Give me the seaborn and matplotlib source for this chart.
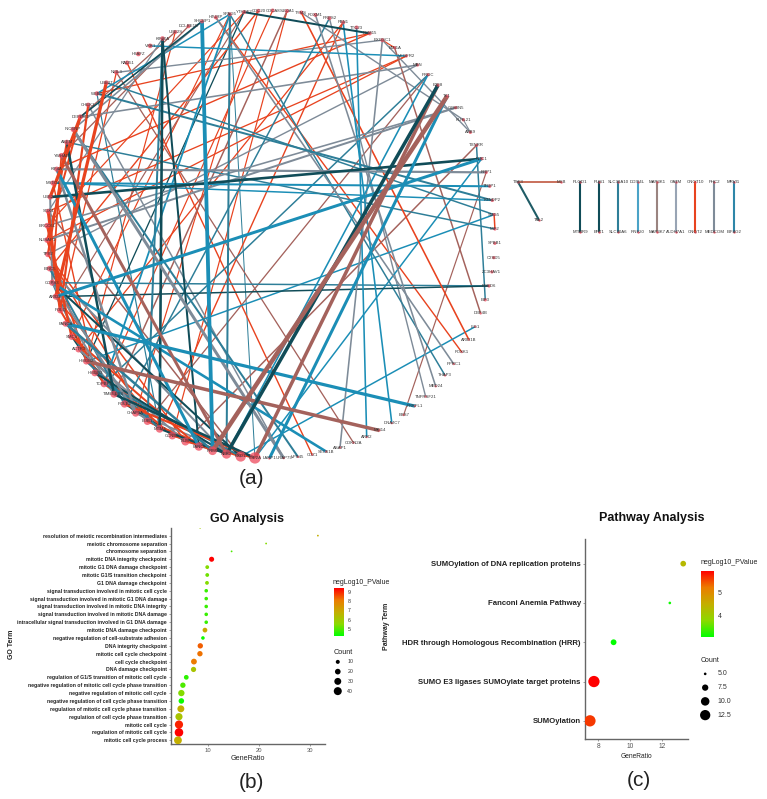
import numpy as np
import pandas as pd
import matplotlib
matplotlib.use('Agg')
import matplotlib.pyplot as plt
from matplotlib.cm import ScalarMappable
from matplotlib.colors import LinearSegmentedColormap, Normalize
import seaborn as sns

W, H = 767, 799

# ---- network (a): genes run clockwise from the big TOP2A node at the bottom
genes = [
    'TOP2A', 'EXO1', 'NEK2', 'RRM2', 'FANCI', 'BLM', 'CCNB2', 'MCM4', 'BUB1', 'CHAF1A',
    'POLE2', 'TIMELESS', 'TOPBP1', 'HMGB3', 'HMGB2', 'ACTR3', 'SMC4', 'FANCA', 'POLQ', 'ARID2',
    'COPS3', 'BIRC5', 'TPX2', 'NUSAP1', 'ERCC6L', 'SOX4', 'UBE2C', 'MSTO1', 'KIF4A', 'YWHAB',
    'ASPM', 'INCENP', 'DEPDC1', 'CHEK1', 'WEE1', 'UBE2T', 'NEIL3', 'RAD51', 'H2AFZ', 'VRK1',
    'KIF20A', 'UBE2S', 'DCLRE1B', 'SHCBP1', 'HJURP', 'SPAG5', 'YTHDF2', 'CDC20', 'CDCA8', 'S100A1',
    'TYMS', 'FOXM1', 'PRPS2', 'FBN1', 'TTC23', 'RBM15', 'EXOSC1', 'BMI1A', 'VEGFR2', 'MBN',
    'PROC', 'E2F8', 'TK1', 'GEMIN5', 'KLHL21', 'ASB9', 'TXNRR', 'NUC1', 'RRP1', 'TFDP1',
    'KTNDP2', 'SMG5', 'MIF2', 'SPBB1', 'C2SD5', 'ZC3HAV1', 'PDED6', 'EIF3', 'DBF4B', 'LIG1',
    'ARID1B', 'FOXK1', 'PPRC1', 'THAP3', 'MED24', 'TNFRSF21', 'PRKFL1', 'BBS7', 'DNAJC7', 'MKI14',
    'ARR2', 'CDKN2A', 'ASAP1', 'SEC61B', 'CDZ1', 'VPS45', 'URAP79', 'LARP1',
]
gene_degree = [
    24, 20, 16, 14, 13, 12, 11, 11, 10, 10, 10, 9, 9, 9, 8, 8, 8, 7, 7, 7,
    7, 6, 6, 6, 6, 5, 5, 5, 5, 5, 5, 5, 5, 4, 4, 4, 4, 4, 4, 4,
    4, 3, 3, 3, 3, 3, 3, 3, 3, 3, 3, 3, 3, 3, 3, 3, 3, 2, 2, 2,
    2, 2, 2, 2, 2, 2, 2, 2, 2, 2, 2, 2, 2, 2, 2, 2, 2, 2, 1, 1,
    1, 1, 1, 1, 1, 1, 1, 1, 1, 1, 1, 1, 1, 1, 1, 1, 1, 1,
]

# edges as (gene index, gene index, weight), one list per edge colour
red_edges = [
    (50, 80, 1.6), (44, 81, 1.4), (28, 55, 1.4), (34, 55, 1.3), (23, 58, 1.3), (7, 53, 1.4),
    (15, 53, 1.3), (37, 94, 1.4), (21, 47, 1.4), (25, 58, 1.3), (6, 49, 1.2), (71, 72, 1.5),
    (16, 45, 1.2), (56, 57, 1.2), (32, 26, 3.2), (35, 19, 3.2), (32, 23, 2), (16, 4, 2),
    (14, 6, 2), (10, 0, 2.2), (8, 2, 1.6), (30, 22, 2.2), (29, 20, 1.8), (33, 18, 2.2),
    (27, 13, 1.4), (22, 5, 1.5), (19, 7, 1.5), (36, 18, 1.3), (41, 14, 1.2), (48, 12, 1.2),
    (47, 9, 1.2), (46, 24, 1.2), (22, 8, 1.5), (18, 12, 2), (23, 14, 2), (24, 16, 2.5),
    (25, 18, 3), (12, 7, 1.5), (8, 3, 2), (6, 1, 2), (5, 0, 2),
]
brown_edges = [
    (62, 3, 4.5), (61, 0, 3.5), (14, 89, 3.5), (29, 2, 3), (5, 66, 1.5), (68, 87, 1.2),
    (36, 91, 1.3), (57, 78, 1.5), (42, 29, 1.3), (41, 32, 1.3), (11, 49, 1.5), (18, 46, 1.2),
    (60, 8, 1.3), (25, 1, 1.5), (16, 7, 1.5),
]
slate_edges = [
    (28, 68, 2.2), (31, 96, 3), (44, 82, 1.6), (51, 84, 1.6), (52, 85, 1.4), (56, 92, 1.6),
    (33, 96, 1.5), (36, 56, 1.4), (32, 59, 1.6), (22, 59, 1.4), (23, 63, 2), (24, 63, 1.6),
    (64, 65, 1.1), (56, 65, 1.4), (50, 64, 1.4), (40, 25, 1.3), (43, 31, 1.6), (21, 2, 2),
    (15, 5, 2), (9, 1, 1.6), (20, 9, 2.2), (28, 9, 2.5), (19, 11, 2), (26, 20, 2),
    (13, 8, 1.5), (9, 4, 1.5), (4, 0, 1.5),
]
blue_edges = [
    (62, 97, 3), (19, 67, 3), (27, 69, 2), (27, 70, 1.5), (71, 14, 1.5), (17, 86, 3.2),
    (53, 88, 1.6), (54, 90, 1.6), (20, 93, 2.6), (79, 1, 1.5), (67, 0, 1.5), (3, 43, 3.8),
    (45, 12, 1.8), (2, 60, 1.6), (45, 34, 1.5), (39, 58, 1.5), (28, 4, 3),
]
teal_edges = [
    (34, 70, 2), (30, 72, 1.5), (66, 77, 1.5), (20, 76, 1.5), (45, 83, 1.5), (31, 95, 2),
    (40, 8, 2), (52, 10, 1.5), (12, 60, 1.5), (35, 71, 1.5), (34, 7, 1.2), (45, 0, 1),
    (17, 3, 2.5), (12, 1, 2), (45, 2, 2), (21, 10, 2), (20, 14, 1.5), (14, 7, 2),
]
dark_edges = [
    (26, 67, 2.6), (61, 2, 3.5), (19, 76, 1.5), (43, 32, 1.6), (40, 7, 2.6), (40, 4, 2),
    (46, 14, 1.3), (46, 55, 2), (30, 11, 2.5), (20, 1, 2), (13, 2, 2), (11, 0, 2.5),
    (16, 12, 1.5), (15, 9, 1.5), (10, 5, 1.5), (7, 2, 2),
]

# small components to the right of the circle
pair_top = ['PLOD1', 'PUS1', 'SLC39A10', 'DDIT4L', 'MAP3K1', 'GATM', 'CNOT10', 'PHC2', 'MRVI1']
pair_bottom = ['MTMR9', 'EPT1', 'SLC30A6', 'RNF20', 'MAP3K7', 'ALDH7A1', 'CNOT2', 'MEDCOM', 'EIF4G2']
pair_color = ['#104C58', '#104C58', '#2E7E98', '#4BA3C7', '#9A8480', '#98A4B4', '#E8431F', '#7E8B98', '#2E86A8']

# ---- GO dot plot (b), top row first; the blank row is cut off by the axis top
go_terms = [
    ' ',
    'resolution of meiotic recombination intermediates', 'meiotic chromosome separation',
    'chromosome separation', 'mitotic DNA integrity checkpoint',
    'mitotic G1 DNA damage checkpoint', 'mitotic G1/S transition checkpoint',
    'G1 DNA damage checkpoint', 'signal transduction involved in mitotic cell cycle',
    'signal transduction involved in mitotic G1 DNA damage',
    'signal transduction involved in mitotic DNA integrity',
    'signal transduction involved in mitotic DNA damage',
    'intracellular signal transduction involved in G1 DNA damage',
    'mitotic DNA damage checkpoint', 'negative regulation of cell-substrate adhesion',
    'DNA integrity checkpoint', 'mitotic cell cycle checkpoint', 'cell cycle checkpoint',
    'DNA damage checkpoint', 'regulation of G1/S transition of mitotic cell cycle',
    'negative regulation of mitotic cell cycle phase transition',
    'negative regulation of mitotic cell cycle',
    'negative regulation of cell cycle phase transition',
    'regulation of mitotic cell cycle phase transition',
    'regulation of cell cycle phase transition', 'mitotic cell cycle',
    'regulation of mitotic cell cycle', 'mitotic cell cycle process',
]
go_ratio = [8.4, 31.6, 21.4, 14.6, 10.66, 9.8, 9.8, 9.75, 9.6, 9.6, 9.6, 9.6, 9.6, 9.35,
            8.95, 8.43, 8.36, 7.18, 7.1, 5.67, 5.0, 4.7, 4.7, 4.6, 4.23, 4.23, 4.23, 4.03]
go_logp = [6.0, 6.8, 5.5, 5.0, 9.35, 5.5, 5.3, 5.5, 4.8, 4.8, 4.8, 4.8, 4.8, 7.0,
           4.4, 8.4, 8.2, 8.1, 6.2, 4.7, 5.0, 5.5, 4.4, 6.8, 6.2, 9.0, 9.35, 6.8]
go_count = [2, 2, 2, 2, 16, 9, 9, 9, 8, 8, 8, 8, 8, 14,
            8, 18, 18, 21, 17, 14, 18, 25, 19, 30, 32, 42, 46, 38]
go_count_legend = [10, 20, 30, 40]
go_logp_ticks = [5, 6, 7, 8, 9]
go_ratio_ticks = [10, 20, 30]

# ---- pathway dot plot (c)
path_terms = [
    'SUMOylation of DNA replication proteins', 'Fanconi Anemia Pathway',
    'HDR through Homologous Recombination (HRR)',
    'SUMO E3 ligases SUMOylate target proteins', 'SUMOylation',
]
path_ratio = [13.32, 12.48, 8.96, 7.73, 7.48]
path_logp = [4.3, 3.1, 3.05, 5.93, 5.6]
path_count = [6.9, 5, 7, 14, 14]
path_count_legend = [5.0, 7.5, 10.0, 12.5]
path_logp_ticks = [4, 5]
path_ratio_ticks = [8, 10, 12]

green_red = LinearSegmentedColormap.from_list(
    'green_red', ['#00FF00', '#8CD900', '#C4AE00', '#EC7C00', '#FF0000'])


# axes placed by pixel box of the 767x799 canvas
def px_axes(fig, x0, y0, x1, y1):
    return fig.add_axes([x0 / W, 1 - y1 / H, (x1 - x0) / W, (y1 - y0) / H])


def px_text(fig, x, y, s, **kw):
    kw.setdefault('ha', 'center')
    kw.setdefault('va', 'center')
    fig.text(x / W, 1 - y / H, s, **kw)


def draw_network(ax):
    ax.set_xlim(0, W)
    ax.set_ylim(490, 0)
    ax.axis('off')

    cx, cy, r = 271, 234.5, 224
    theta = np.deg2rad(-94.1) - 2 * np.pi * np.arange(len(genes)) / len(genes)
    xs = cx + r * np.cos(theta)
    ys = cy - r * np.sin(theta)

    groups = [(red_edges, '#E8431F'), (brown_edges, '#A4625C'), (slate_edges, '#7E8B98'),
              (blue_edges, '#1B8EB6'), (teal_edges, '#2E7E98'), (dark_edges, '#104C58')]
    rows = [(a, b, w, c) for edges, c in groups for a, b, w in edges]
    for a, b, w, c in sorted(rows, key=lambda e: e[2]):
        ax.plot([xs[a], xs[b]], [ys[a], ys[b]], color=c, lw=w * 0.72, solid_capstyle='butt', zorder=2)

    # side components: a row of vertical pairs and the small three-node one
    step = 19.2
    side_x, side_y, side_name = [518, 561, 539], [182, 182, 220], ['TSE3', 'MYB', 'TAL2']
    for i, (top, bottom, c) in enumerate(zip(pair_top, pair_bottom, pair_color)):
        x = 580 + i * step
        ax.plot([x, x], [182, 232], color=c, lw=1.5, zorder=2)
        side_x += [x, x]
        side_y += [182, 232]
        side_name += [top, bottom]
    ax.plot(side_x[:2], side_y[:2], color='#C0573F', lw=1.2, zorder=2)
    ax.plot([side_x[0], side_x[2]], [side_y[0], side_y[2]], color='#1F5C66', lw=1.5, zorder=2)
    sns.scatterplot(x=side_x, y=side_y, s=3, color='#EE4A5C', alpha=0.8, linewidth=0, ax=ax, zorder=3)
    for x, y, s in zip(side_x, side_y, side_name):
        ax.text(x, y, s, fontsize=3.2, ha='center', va='center', color='#333333', zorder=4)

    nodes = pd.DataFrame({'x': xs, 'y': ys, 'degree': gene_degree})
    sns.scatterplot(data=nodes, x='x', y='y', size='degree', sizes=(2.8, 67), size_norm=(1, 24),
                    color='#EE4A5C', alpha=0.75, linewidth=0, legend=False, ax=ax, zorder=3)
    ax.set_xlabel('')
    ax.set_ylabel('')
    for x, y, g in zip(xs, ys, genes):
        ax.text(x, y, g, fontsize=3.1, ha='center', va='center', color='#333333', zorder=4)


def dot_panel(ax, terms, ratio, logp, count, logp_range, sizes, size_norm, ticks):
    df = pd.DataFrame({'term': terms, 'GeneRatio': ratio, 'logp': logp, 'count': count})
    sns.scatterplot(data=df, x='GeneRatio', y='term', hue='logp', size='count', palette=green_red,
                    hue_norm=logp_range, sizes=sizes, size_norm=size_norm, linewidth=0,
                    legend=False, ax=ax, zorder=3)
    ax.set_xticks(ticks)
    ax.set_ylabel('')
    for s in ('top', 'right'):
        ax.spines[s].set_visible(False)
    for s in ('left', 'bottom'):
        ax.spines[s].set_color('#666666')
        ax.spines[s].set_linewidth(1.0)


def logp_bar(fig, box, logp_range, ticks, size):
    cax = px_axes(fig, *box)
    sm = ScalarMappable(norm=Normalize(*logp_range), cmap=green_red)
    cb = fig.colorbar(sm, cax=cax, ticks=ticks)
    cb.outline.set_visible(False)
    cax.tick_params(length=0, labelsize=size, pad=2.5, colors='#333333')


def count_key(fig, box, counts, labels, sizes, size_norm, size):
    ax = px_axes(fig, *box)
    df = pd.DataFrame({'k': np.zeros(len(counts)), 'count': counts, 'row': labels})
    sns.scatterplot(data=df, x='k', y='row', size='count', sizes=sizes, size_norm=size_norm,
                    color='black', linewidth=0, legend=False, ax=ax)
    ax.set_xlim(-0.5, 2.2)
    ax.set_ylim(len(counts) - 0.5, -0.5)
    ax.axis('off')
    for i, lab in enumerate(labels):
        ax.text(0.62, i, lab, fontsize=size, va='center', ha='left', color='#333333')


def main():
    sns.set_theme(style='white')
    plt.rcParams['font.family'] = ['Liberation Sans', 'DejaVu Sans']

    fig = plt.figure(figsize=(W / 100, H / 100), dpi=100)

    net_ax = fig.add_axes([0, 1 - 490 / H, 1, 490 / H])
    draw_network(net_ax)
    px_text(fig, 252, 479, '(a)', fontsize=15, color='#222222')

    # GO panel
    go_ax = px_axes(fig, 171, 528, 325, 744)
    dot_panel(go_ax, go_terms, go_ratio, go_logp, go_count, (4.3, 9.35),
              (0.83 * 2, 0.83 * 46), (2, 46), go_ratio_ticks)
    go_ax.set_xlim(2.66, 33.0)
    go_ax.set_ylim(27.47, 0.03)
    go_ax.set_yticks(range(1, len(go_terms)))
    go_ax.set_yticklabels(go_terms[1:], fontsize=3.7, fontweight='bold', color='#222222')
    go_ax.tick_params(axis='y', length=1.5, width=0.4, pad=1.5, color='#555555', left=True)
    go_ax.tick_params(axis='x', length=1.5, width=0.4, pad=1.5, labelsize=4.2, color='#555555',
                      labelcolor='#555555', bottom=True)
    go_ax.set_xlabel('GeneRatio', fontsize=5.2, labelpad=1.5, color='#222222')
    px_text(fig, 247, 519, 'GO Analysis', fontsize=9, fontweight='bold', color='#111111')
    px_text(fig, 11.7, 644, 'GO Term', fontsize=5, fontweight='bold', rotation=90, color='#222222')
    px_text(fig, 251, 782, '(b)', fontsize=15, color='#222222')

    px_text(fig, 333, 583, 'negLog10_PValue', fontsize=5.0, ha='left', color='#222222')
    logp_bar(fig, (334, 588.3, 344, 636), (4.3, 9.35), go_logp_ticks, 3.8)
    px_text(fig, 334, 652, 'Count', fontsize=5.2, ha='left', color='#222222')
    count_key(fig, (330, 657, 372, 696), go_count_legend, ['10', '20', '30', '40'],
              (0.83 * 10, 0.83 * 40), (10, 40), 3.8)

    # pathway panel
    path_ax = px_axes(fig, 585, 539.3, 687.7, 739.3)
    dot_panel(path_ax, path_terms, path_ratio, path_logp, path_count, (3.03, 5.93),
              (3.6, 66), (5, 14), path_ratio_ticks)
    path_ax.set_xlim(7.17, 13.6)
    path_ax.set_ylim(4.47, -0.62)
    path_ax.set_yticks(range(len(path_terms)))
    path_ax.set_yticklabels(path_terms, fontsize=5.55, fontweight='bold', color='#222222')
    path_ax.tick_params(axis='y', length=1.5, width=0.4, pad=1.5, color='#555555', left=True)
    path_ax.tick_params(axis='x', length=1.5, width=0.4, pad=1.5, labelsize=4.8, color='#555555',
                        labelcolor='#555555', bottom=True)
    path_ax.set_xlabel('GeneRatio', fontsize=4.8, labelpad=1.5, color='#222222')
    px_text(fig, 652, 518, 'Pathway Analysis', fontsize=9, fontweight='bold', color='#111111')
    px_text(fig, 387, 626, 'Pathway Term', fontsize=5.0, fontweight='bold', rotation=90, color='#222222')
    px_text(fig, 639, 781, '(c)', fontsize=15, color='#222222')

    px_text(fig, 701, 562.3, 'negLog10_PValue', fontsize=5.0, ha='left', color='#222222')
    logp_bar(fig, (700.7, 570.7, 714, 637.3), (3.03, 5.93), path_logp_ticks, 5)
    px_text(fig, 701, 660, 'Count', fontsize=5.0, ha='left', color='#222222')
    count_key(fig, (695, 667, 750, 722), path_count_legend, ['5.0', '7.5', '10.0', '12.5'],
              (3.6, 54.6), (5, 12.5), 5)

    fig.savefig('out.png', dpi=100)
    plt.close(fig)


if __name__ == '__main__':
    main()
